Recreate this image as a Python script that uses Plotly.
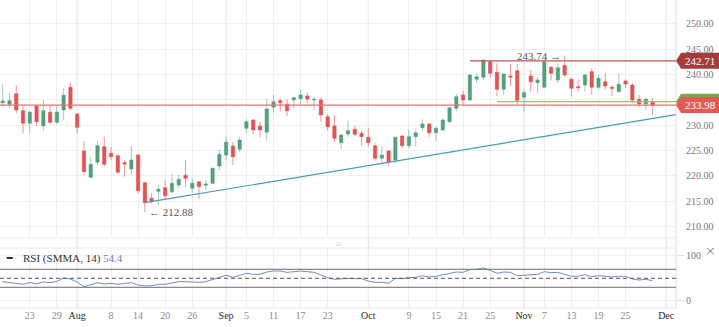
import pandas as pd
import plotly.graph_objects as go

# ---------------- data ----------------
# daily sessions (weekdays; 1 Nov 2024 had no session)
sessions = [d for d in pd.bdate_range("2024-07-17", "2024-11-29")
            if d != pd.Timestamp("2024-11-01")]

open_ = [234.46, 234.14, 236.23, 232.88, 230.39, 233.81, 229.87, 232.56, 230.59, 233.02,
         237.50, 232.23, 224.93, 219.74, 222.70, 225.78, 224.48, 224.00, 222.62, 221.38,
         224.14, 218.68, 215.60, 216.98, 217.69, 216.90, 218.22, 220.14, 217.57, 218.88,
         218.17, 218.56, 221.97, 224.14, 225.92, 225.27, 229.40, 231.05, 229.87, 228.62,
         233.55, 234.86, 234.14, 235.00, 235.25, 235.78, 234.99, 234.99, 231.70, 229.86,
         226.57, 228.28, 229.21, 228.42, 227.63, 225.98, 223.49, 224.93, 223.16, 227.89,
         225.98, 227.75, 229.53, 230.26, 228.54, 229.07, 230.71, 233.35, 235.98, 234.99,
         239.07, 239.47, 242.55, 240.45, 237.10, 239.72, 240.74, 235.52, 239.72, 238.40,
         237.50, 241.44, 238.93, 241.80, 239.07, 237.62, 237.95, 240.57, 237.49, 238.60,
         237.49, 236.63, 238.74, 237.95, 235.13, 234.20, 234.66]
high = [238.10, 236.40, 237.89, 233.81, 232.82, 234.00, 234.99, 233.95, 233.95, 237.30,
        238.40, 232.37, 226.90, 223.80, 226.96, 227.75, 225.78, 224.28, 223.02, 225.92,
        224.34, 218.88, 216.70, 218.22, 219.21, 220.39, 220.20, 223.16, 219.55, 218.88,
        219.21, 221.60, 225.13, 227.75, 226.76, 227.63, 231.18, 231.18, 230.71, 235.19,
        235.98, 235.33, 235.13, 235.65, 237.10, 236.50, 235.45, 235.52, 232.23, 232.03,
        228.20, 230.91, 229.86, 228.93, 229.40, 226.45, 225.78, 225.13, 227.75, 228.09,
        229.07, 229.07, 231.18, 230.51, 229.72, 231.38, 233.67, 236.18, 236.83, 240.12,
        240.12, 243.00, 242.80, 242.20, 240.20, 242.09, 242.09, 236.96, 240.91, 239.60,
        242.88, 241.70, 242.23, 243.74, 239.47, 239.07, 240.12, 241.24, 239.92, 240.26,
        237.95, 240.26, 239.07, 238.29, 235.98, 235.52, 235.33]
low = [233.60, 233.35, 232.36, 228.42, 228.42, 229.87, 228.93, 230.26, 230.26, 231.05,
       233.02, 228.42, 220.20, 219.55, 222.17, 221.83, 223.16, 220.53, 219.86, 220.20,
       216.59, 212.88, 214.60, 214.28, 215.46, 216.59, 217.57, 217.90, 216.70, 215.46,
       217.10, 218.42, 221.18, 223.16, 222.17, 224.79, 228.42, 228.28, 227.63, 226.96,
       232.49, 232.68, 231.83, 233.35, 234.00, 234.34, 233.02, 230.71, 228.93, 226.76,
       225.27, 227.75, 227.89, 225.98, 225.78, 223.02, 222.62, 221.97, 222.50, 225.46,
       225.46, 225.78, 228.93, 227.75, 226.96, 228.93, 230.51, 232.68, 233.81, 234.80,
       238.29, 238.93, 239.27, 235.80, 235.98, 237.75, 233.90, 232.68, 236.63, 236.43,
       237.40, 238.80, 238.29, 239.50, 235.65, 236.63, 236.63, 235.98, 237.10, 236.96,
       235.78, 236.43, 237.30, 234.34, 233.55, 233.02, 232.03]
close = [234.79, 234.86, 233.02, 230.39, 232.56, 230.71, 232.88, 230.59, 232.62, 235.92,
         233.35, 229.60, 220.85, 222.30, 225.98, 222.31, 223.81, 220.73, 222.37, 223.16,
         217.10, 214.73, 214.93, 217.38, 216.11, 218.56, 219.34, 219.55, 218.56, 217.89,
         218.42, 221.52, 224.28, 226.65, 223.81, 227.10, 230.71, 229.07, 229.07, 233.21,
         234.66, 234.46, 232.88, 235.45, 235.98, 235.19, 235.12, 232.03, 229.72, 227.43,
         228.09, 228.93, 228.22, 227.75, 226.57, 223.49, 224.14, 222.82, 227.63, 225.98,
         227.75, 228.54, 230.26, 228.54, 229.40, 231.05, 233.47, 235.65, 234.99, 239.92,
         239.59, 242.88, 240.26, 237.10, 240.12, 239.50, 234.92, 236.43, 238.60, 238.93,
         242.55, 240.26, 241.36, 239.92, 237.30, 237.42, 239.92, 237.49, 239.27, 237.75,
         237.30, 238.08, 238.15, 234.99, 234.20, 235.13, 233.98]
rsi = [42.5, 41.0, 38.8, 36.6, 40.3, 38.1, 41.8, 40.3, 43.2, 50.6,
       48.4, 41.8, 31.4, 35.1, 40.3, 37.3, 38.8, 36.6, 38.8, 40.3,
       35.1, 32.9, 33.6, 36.6, 36.6, 40.3, 42.5, 42.5, 41.8, 41.0,
       42.5, 47.7, 52.9, 56.6, 52.1, 55.8, 61.0, 58.8, 58.8, 64.0,
       66.2, 66.2, 63.2, 64.7, 66.2, 64.7, 63.2, 57.3, 51.4, 47.7,
       49.2, 49.9, 49.2, 49.2, 44.0, 41.0, 41.0, 38.8, 49.9, 49.2,
       51.4, 52.1, 55.8, 52.9, 54.4, 57.3, 60.3, 64.0, 63.2, 69.2,
       69.9, 72.9, 67.7, 61.0, 64.0, 63.2, 55.8, 56.6, 58.8, 58.8,
       64.7, 62.5, 63.2, 59.5, 54.4, 54.4, 58.1, 53.6, 55.8, 54.4,
       52.9, 54.4, 54.4, 48.4, 46.2, 47.7, 44.7]

tick_dates = ["2024-07-23", "2024-07-29", "2024-08-01", "2024-08-08", "2024-08-14",
              "2024-08-20", "2024-08-26", "2024-09-01", "2024-09-05", "2024-09-11",
              "2024-09-17", "2024-09-23", "2024-10-01", "2024-10-09", "2024-10-15",
              "2024-10-21", "2024-10-25", "2024-11-01", "2024-11-07", "2024-11-13",
              "2024-11-19", "2024-11-25", "2024-12-01"]
tick_labels = ["23", "29", "Aug", "8", "14", "20", "26", "Sep", "5", "11", "17", "23",
               "Oct", "9", "15", "21", "25", "Nov", "7", "13", "19", "25", "Dec"]
month_names = ["Aug", "Sep", "Oct", "Nov", "Dec"]

price_ticks = [210, 215, 220, 225, 230, 235, 240, 245, 250]
rsi_ticks = [0, 100]
rsi_levels = [30, 50, 70]

last_price = 233.98
resistance_price = 242.71
resistance_from = "2024-10-22"
support_price = 234.65
support_from = "2024-10-28"
peak_price = 243.74
trough_price = 212.88
trend_dates = ["2024-08-15", "2024-11-29"]
trend_values = [214.73, 231.35]

legend_name = "RSI (SMMA, 14)"
legend_value = "54.4"

# ---------------- helpers ----------------
def pos(day):
    """Slot of a date on the session axis; days past the data continue by calendar."""
    ts = pd.Timestamp(day)
    for i, d in enumerate(sessions):
        if d >= ts:
            return i
    return len(sessions) - 1 + (ts - sessions[-1]).days


x = list(range(len(sessions)))
hover_dates = [d.strftime("%Y-%m-%d") for d in sessions]
x_range = [-0.4, 99.45]
tick_pos = [pos(d) for d in tick_dates]
tick_text = [f"<span style='color:#2a2a2a'>{t}</span>" if t in month_names else t
             for t in tick_labels]

# price-axis labels; the one sitting under the price tags is left blank
tag_prices = [support_price, last_price, resistance_price]
price_text = ["" if any(abs(p - t) < 1.5 for t in tag_prices) else f"{p:.2f}"
              for p in price_ticks]

SERIF = "Liberation Serif, Times New Roman, serif"
GREEN, RED = "#54a07c", "#e25353"
GRID = "#eef0f1"

fig = go.Figure()

fig.add_trace(go.Candlestick(
    x=x, open=open_, high=high, low=low, close=close, text=hover_dates,
    increasing=dict(line=dict(color="rgba(84,160,124,0.55)", width=1), fillcolor=GREEN),
    decreasing=dict(line=dict(color="rgba(226,83,83,0.6)", width=1), fillcolor=RED),
    whiskerwidth=0, xaxis="x", yaxis="y", showlegend=False, name="Price"))

# rising trend line through two session closes, carried to the right edge
t0, t1 = pos(trend_dates[0]), pos(trend_dates[1])
slope = (trend_values[1] - trend_values[0]) / (t1 - t0)
trend_end = trend_values[0] + slope * (x_range[1] - t0)
fig.add_trace(go.Scatter(x=[t0, x_range[1]], y=[trend_values[0], trend_end], mode="lines",
                         line=dict(color="#4a9ab4", width=1.2), hoverinfo="skip",
                         showlegend=False, xaxis="x", yaxis="y"))

fig.add_trace(go.Scatter(x=x, y=rsi, mode="lines", line=dict(color="#6a8fc8", width=1),
                         text=hover_dates, showlegend=False, xaxis="x2", yaxis="y2",
                         name="RSI"))

main_dom = [0.2273, 1.0]
rsi_dom = [0.0, 0.1948]

axis_common = dict(range=x_range, tickvals=tick_pos, showgrid=True, gridcolor=GRID,
                   gridwidth=1, zeroline=False, showline=False, fixedrange=True)

fig.update_layout(
    width=719, height=327,
    margin=dict(l=0, r=43, t=0, b=19),
    paper_bgcolor="white", plot_bgcolor="white",
    font=dict(family=SERIF, size=10, color="#777"),
    showlegend=False,
    xaxis=dict(**axis_common, anchor="y", showticklabels=False, ticks="",
               rangeslider=dict(visible=False)),
    yaxis=dict(domain=main_dom, range=[207.77, 254.71], side="right", tickvals=price_ticks,
               ticktext=price_text, gridcolor=GRID, zeroline=False, showline=False,
               ticks="outside", ticklen=7, tickcolor="rgba(0,0,0,0)",
               tickfont=dict(family=SERIF, size=10, color="#777"), fixedrange=True),
    xaxis2=dict(**axis_common, anchor="y2", ticktext=tick_text, ticks="",
                tickfont=dict(family=SERIF, size=10, color="#8a8a8a")),
    yaxis2=dict(domain=rsi_dom, range=[-16, 117.3], side="right", tickvals=rsi_ticks,
                gridcolor=GRID, zeroline=False, showline=False,
                ticks="outside", ticklen=7, tickcolor="#dddddd",
                tickfont=dict(family=SERIF, size=10, color="#777"), fixedrange=True),
)

shapes = []
# month separators
for p, t in zip(tick_pos, tick_labels):
    if t in month_names:
        shapes.append(dict(type="line", xref="x", yref="paper", x0=p, x1=p, y0=0, y1=1,
                           line=dict(color="#dcdfe0", width=1), layer="below"))
# pane borders
shapes.append(dict(type="line", xref="paper", yref="paper", x0=1, x1=1, y0=0, y1=1,
                   line=dict(color="#dcdfe0", width=1)))
for yy in (main_dom[0], rsi_dom[1], rsi_dom[0]):
    shapes.append(dict(type="line", xref="paper", yref="paper", x0=0, x1=1, y0=yy, y1=yy,
                       line=dict(color="#e8eaeb", width=1)))
# RSI guide levels
for lv in rsi_levels:
    shapes.append(dict(type="line", xref="paper", yref="y2", x0=0, x1=1, y0=lv, y1=lv,
                       line=dict(color="#555" if lv == 50 else "#6b6b6b", width=1,
                                 dash="4px,3px" if lv == 50 else "solid")))
# price levels
shapes.append(dict(type="line", xref="x", yref="y", x0=pos(support_from), x1=x_range[1],
                   y0=support_price, y1=support_price,
                   line=dict(color="#9cbf72", width=1.2)))
shapes.append(dict(type="line", xref="paper", yref="y", x0=0, x1=1,
                   y0=last_price, y1=last_price, line=dict(color="#e87474", width=1.2)))
shapes.append(dict(type="line", xref="x", yref="y", x0=pos(resistance_from), x1=x_range[1],
                   y0=resistance_price, y1=resistance_price,
                   line=dict(color="#c25555", width=1.2)))

# price tags on the right axis
tag_path = "M0,0 L5,8 L43,8 L43,-8 L5,-8 Z"
for price, color in ((support_price, "#7aa84a"), (last_price, "#e25a53"),
                     (resistance_price, "#a63d3d")):
    shapes.append(dict(type="path", xref="paper", yref="y", xsizemode="pixel",
                       ysizemode="pixel", xanchor=1, yanchor=price, path=tag_path,
                       fillcolor=color, line=dict(width=0)))
fig.update_layout(shapes=shapes)

annotations = [
    dict(xref="paper", yref="y", x=1, y=last_price, xshift=24, text=f"{last_price:.2f}",
         showarrow=False, xanchor="center", yanchor="middle",
         font=dict(family=SERIF, size=11, color="white")),
    dict(xref="paper", yref="y", x=1, y=resistance_price, xshift=24,
         text=f"{resistance_price:.2f}", showarrow=False, xanchor="center", yanchor="middle",
         font=dict(family=SERIF, size=11, color="white")),
    dict(xref="x", yref="y", x=high.index(peak_price), y=peak_price, xshift=-2,
         text=f"{peak_price:.2f} →", showarrow=False, xanchor="right", yanchor="middle",
         font=dict(family=SERIF, size=11, color="#555")),
    dict(xref="x", yref="y", x=low.index(trough_price), y=trough_price, xshift=2,
         text=f"← {trough_price:.2f}", showarrow=False, xanchor="left", yanchor="middle",
         font=dict(family=SERIF, size=11, color="#555")),
    # indicator legend
    dict(xref="paper", yref="paper", x=0.006, y=0.1623, text="<b>━</b>", showarrow=False,
         xanchor="left", yanchor="middle", font=dict(family=SERIF, size=9, color="#222")),
    dict(xref="paper", yref="paper", x=0.031, y=0.1623, text=legend_name, showarrow=False,
         xanchor="left", yanchor="middle", font=dict(family=SERIF, size=11, color="#333")),
    dict(xref="paper", yref="paper", x=0.149, y=0.1623, text=legend_value, showarrow=False,
         xanchor="left", yanchor="middle", font=dict(family=SERIF, size=11, color="#5b82c2")),
    # pane splitter grip and close button
    dict(xref="paper", yref="paper", x=0.5, y=0.208, text="≡", showarrow=False,
         xanchor="center", yanchor="middle", font=dict(size=11, color="#d0d0d0")),
    dict(xref="paper", yref="paper", x=1.0503, y=0.186, text="×", showarrow=False,
         xanchor="center", yanchor="middle", font=dict(family="DejaVu Sans", size=13,
                                                       color="#999")),
]
fig.update_layout(annotations=annotations)

fig.write_html("out.html")
